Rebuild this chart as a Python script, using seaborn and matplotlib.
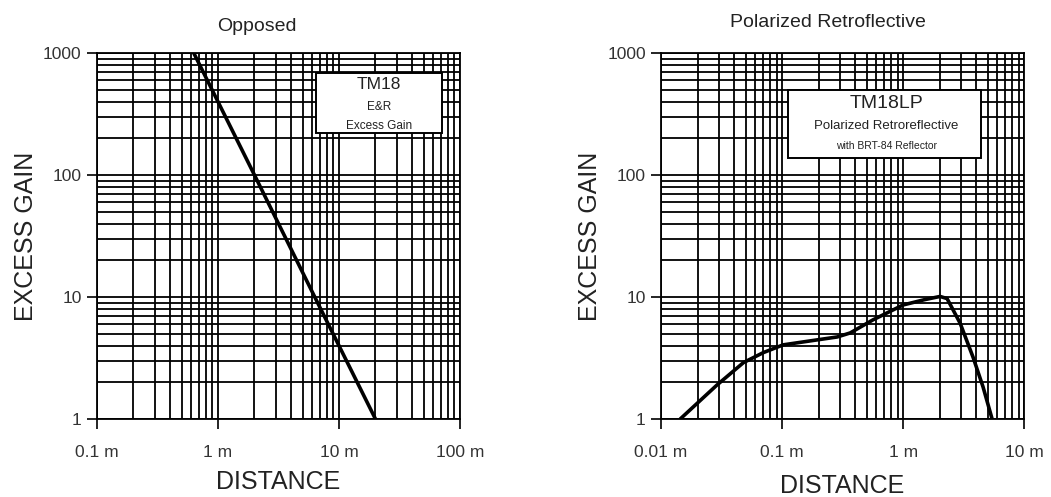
import matplotlib
matplotlib.use("Agg")
import matplotlib.pyplot as plt
import matplotlib.ticker as mticker
from matplotlib.patches import Rectangle
import seaborn as sns
import pandas as pd

# data
opp_dist = [0.63, 2.0, 6.3, 20.0]
opp_gain = [1000, 100, 10, 1]

pol_dist = [0.0144, 0.029, 0.048, 0.070, 0.102, 0.195, 0.285, 0.365, 0.565, 1.0,
            1.5, 2.02, 2.31, 2.96, 3.79, 4.58, 5.44]
pol_gain = [1.0, 1.9, 2.9, 3.5, 4.05, 4.45, 4.7, 5.07, 6.5, 8.6,
            9.5, 10.1, 9.7, 6.1, 3.2, 1.83, 1.0]

opp_xticks = [0.1, 1, 10, 100]
opp_xlabels = ["0.1 m", "1 m", "10 m", "100 m"]
pol_xticks = [0.01, 0.1, 1, 10]
pol_xlabels = ["0.01 m", "0.1 m", "1 m", "10 m"]
yticks = [1, 10, 100, 1000]
ylabels = ["1", "10", "100", "1000"]

sns.set_style("white")
plt.rcParams["font.family"] = ["Liberation Sans", "DejaVu Sans"]

fig = plt.figure(figsize=(10.51, 4.97), dpi=100)
ax1 = fig.add_axes([0.0923, 0.157, 0.3454, 0.7364])
ax2 = fig.add_axes([0.629, 0.157, 0.3454, 0.7364])


def setup(ax, xticks, xlabels):
    ax.set_xscale("log")
    ax.set_yscale("log")
    ax.set_xlim(xticks[0], xticks[-1])
    ax.set_ylim(1, 1000)
    ax.xaxis.set_major_locator(mticker.FixedLocator(xticks))
    ax.xaxis.set_major_formatter(mticker.FixedFormatter(xlabels))
    ax.yaxis.set_major_locator(mticker.FixedLocator(yticks))
    ax.yaxis.set_major_formatter(mticker.FixedFormatter(ylabels))
    ax.xaxis.set_minor_locator(mticker.LogLocator(base=10, subs=range(2, 10), numticks=20))
    ax.yaxis.set_minor_locator(mticker.LogLocator(base=10, subs=range(2, 10), numticks=20))
    ax.xaxis.set_minor_formatter(mticker.NullFormatter())
    ax.yaxis.set_minor_formatter(mticker.NullFormatter())
    ax.grid(True, which="both", color="black", lw=1.3)
    ax.set_axisbelow(True)
    for s in ax.spines.values():
        s.set_color("black")
        s.set_linewidth(1.3)
    ax.tick_params(axis="both", which="major", direction="out", length=7, width=1.2,
                   color="black", labelsize=12.5, labelcolor="#333333")
    ax.tick_params(axis="x", which="major", pad=12, bottom=True)
    ax.tick_params(axis="y", which="major", pad=4, left=True)
    ax.tick_params(which="minor", length=0)


setup(ax1, opp_xticks, opp_xlabels)
setup(ax2, pol_xticks, pol_xlabels)

df1 = pd.DataFrame({"dist": opp_dist, "gain": opp_gain})
df2 = pd.DataFrame({"dist": pol_dist, "gain": pol_gain})
sns.lineplot(data=df1, x="dist", y="gain", ax=ax1, color="black", lw=2.6, zorder=5)
sns.lineplot(data=df2, x="dist", y="gain", ax=ax2, color="black", lw=2.6, zorder=5)
for ax in (ax1, ax2):
    ax.set_ylabel("EXCESS GAIN", fontsize=18, color="#222222", labelpad=4)
ax1.set_xlabel("DISTANCE", fontsize=18, color="#222222", labelpad=7)
ax2.set_xlabel("DISTANCE", fontsize=18, color="#222222", labelpad=10)

# titles
ax1.text(0.44, 1.072, "Opposed", transform=ax1.transAxes, ha="center", va="center",
         fontsize=14, color="#222222")
ax2.text(0.46, 1.083, "Polarized Retroflective", transform=ax2.transAxes, ha="center",
         va="center", fontsize=14, color="#222222")

# boxed legends
ax1.add_patch(Rectangle((0.603, 0.781), 0.347, 0.164, transform=ax1.transAxes,
                        facecolor="white", edgecolor="black", lw=1.4, zorder=6))
ax1.text(0.777, 0.913, "TM18", transform=ax1.transAxes, ha="center", va="center",
         fontsize=12.5, zorder=7, color="#222222")
ax1.text(0.777, 0.852, "E&R", transform=ax1.transAxes, ha="center", va="center",
         fontsize=8.5, zorder=7, color="#222222")
ax1.text(0.777, 0.80, "Excess Gain", transform=ax1.transAxes, ha="center", va="center",
         fontsize=8.5, zorder=7, color="#222222")

ax2.add_patch(Rectangle((0.35, 0.713), 0.532, 0.186, transform=ax2.transAxes,
                        facecolor="white", edgecolor="black", lw=1.4, zorder=6))
ax2.text(0.62, 0.863, "TM18LP", transform=ax2.transAxes, ha="center", va="center",
         fontsize=14, zorder=7, color="#222222")
ax2.text(0.62, 0.80, "Polarized Retroreflective", transform=ax2.transAxes, ha="center",
         va="center", fontsize=9.5, zorder=7, color="#222222")
ax2.text(0.62, 0.746, "with BRT-84 Reflector", transform=ax2.transAxes, ha="center",
         va="center", fontsize=7.5, zorder=7, color="#222222")

fig.savefig("out.png", dpi=100)
